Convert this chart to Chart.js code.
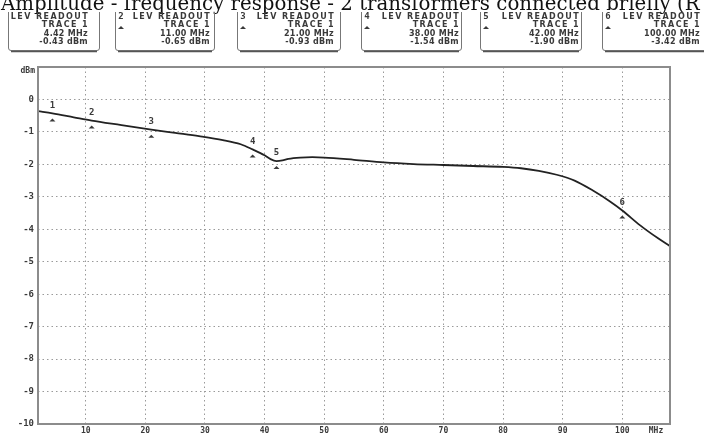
<!DOCTYPE html>
<html>
<head>
<meta charset="utf-8">
<script src="https://cdn.jsdelivr.net/npm/chart.js@4.4.1/dist/chart.umd.min.js"></script>
<style>
  html, body { margin: 0; padding: 0; background: #fff; }
  #wrap { width: 704px; height: 435px; }
</style>
</head>
<body>
<div id="wrap"><canvas id="chart" width="704" height="435"></canvas></div>
<script>
const titleText = 'Amplitude - frequency response - 2 transformers connected briefly (R';

// trace 1 (MHz / dBm)
const traceFreq  = [2, 4.42, 8, 11, 16, 21, 25, 29, 33, 36, 38, 40, 41, 42, 43, 44, 46, 48, 50, 55, 60, 65, 70, 75, 80, 83, 86, 89, 92, 95, 98, 100, 103, 106, 108];
const traceLevel = [-0.36, -0.43, -0.55, -0.65, -0.79, -0.93, -1.03, -1.13, -1.25, -1.38, -1.54, -1.72, -1.84, -1.90, -1.88, -1.83, -1.79, -1.78, -1.79, -1.86, -1.94, -1.99, -2.02, -2.05, -2.08, -2.12, -2.20, -2.32, -2.50, -2.80, -3.15, -3.42, -3.88, -4.28, -4.52];

// markers
const markerNo    = [1, 2, 3, 4, 5, 6];
const markerFreq  = [4.42, 11, 21, 38, 42, 100];
const markerLevel = [-0.43, -0.65, -0.93, -1.54, -1.90, -3.42];

// axes
const xTicks = [10, 20, 30, 40, 50, 60, 70, 80, 90, 100];
const yTicks = [0, -1, -2, -3, -4, -5, -6, -7, -8, -9, -10];
const xUnit = 'MHz';
const yUnit = 'dBm';

// readout box placement (left border, right border, text right edge)
const boxL = [8, 115, 237, 361, 480, 602];
const boxR = [100, 215, 341, 462, 582, 720];
const boxT = [88, 210, 334, 459, 579, 700];

const ink = '#3a3a3a';

function fmt(v) { return v.toFixed(2); }

const screenPlugin = {
  id: 'screen',
  beforeDraw(chart) {
    const c = chart.ctx;
    c.save();
    c.fillStyle = '#fff';
    c.fillRect(0, 0, chart.width, chart.height);
    c.restore();
  },
  afterDraw(chart) {
    const c = chart.ctx;
    const a = chart.chartArea;
    const xs = chart.scales.x, ys = chart.scales.y;
    c.save();

    // frame
    c.strokeStyle = '#8c8c8c';
    c.lineWidth = 2;
    c.strokeRect(a.left, a.top, a.right - a.left, a.bottom - a.top);

    // title (cut at the top of the scan)
    c.fillStyle = '#111';
    c.font = '19.8px "DejaVu Serif"';
    c.textAlign = 'left';
    c.textBaseline = 'alphabetic';
    c.fillText(titleText, 1, 10);

    // readout boxes
    for (let i = 0; i < markerNo.length; i++) {
      c.strokeStyle = '#777';
      c.lineWidth = 1;
      c.beginPath();
      c.moveTo(boxL[i] + 0.5, 12);
      c.lineTo(boxL[i] + 0.5, 48);
      c.quadraticCurveTo(boxL[i] + 0.5, 50.5, boxL[i] + 3, 50.5);
      c.lineTo(boxR[i] - 3, 50.5);
      c.quadraticCurveTo(boxR[i] - 0.5, 50.5, boxR[i] - 0.5, 48);
      c.lineTo(boxR[i] - 0.5, 12);
      c.stroke();
      c.strokeStyle = '#555';
      c.lineWidth = 1.5;
      c.beginPath();
      c.moveTo(boxL[i] + 3, 51.5);
      c.lineTo(boxR[i] - 3, 51.5);
      c.stroke();

      c.fillStyle = ink;
      c.textAlign = 'right';
      c.textBaseline = 'middle';
      c.font = 'bold 8px "DejaVu Sans"';
      c.letterSpacing = '1.4px';
      c.fillText('LEV READOUT', boxT[i] + 1, 17);
      c.fillText('TRACE 1', boxT[i] + 1, 25);
      c.letterSpacing = '0.3px';
      c.fillText(fmt(markerFreq[i]) + ' MHz', boxT[i], 33.5);
      c.fillText(fmt(markerLevel[i]) + ' dBm', boxT[i], 42);
      c.letterSpacing = '0px';

      if (i > 0) {
        const ix = boxL[i] + 6;
        c.textAlign = 'center';
        c.font = 'bold 9px "DejaVu Sans Mono"';
        c.fillText(String(markerNo[i]), ix, 17);
        c.beginPath();
        c.moveTo(ix - 3, 29);
        c.lineTo(ix + 3, 29);
        c.lineTo(ix, 26);
        c.closePath();
        c.fill();
      }
    }

    // markers on the trace
    c.fillStyle = ink;
    c.font = 'bold 9px "DejaVu Sans Mono"';
    c.textAlign = 'center';
    c.textBaseline = 'middle';
    for (let i = 0; i < markerNo.length; i++) {
      const px = xs.getPixelForValue(markerFreq[i]);
      const py = ys.getPixelForValue(markerLevel[i]);
      c.fillText(String(markerNo[i]), px, py - 8);
      c.beginPath();
      c.moveTo(px - 3, py + 8);
      c.lineTo(px + 3, py + 8);
      c.lineTo(px, py + 5);
      c.closePath();
      c.fill();
    }

    // unit labels
    c.font = 'bold 8px "DejaVu Sans Mono"';
    c.textAlign = 'right';
    c.fillText(yUnit, a.left - 3, a.top + 4);
    c.textAlign = 'center';
    c.fillText(xUnit, a.right - 14, a.bottom + 7);
    c.restore();
  }
};

new Chart(document.getElementById('chart'), {
  type: 'line',
  data: {
    datasets: [{
      data: traceFreq.map((f, i) => ({ x: f, y: traceLevel[i] })),
      borderColor: '#222',
      borderWidth: 1.8,
      pointRadius: 0,
      cubicInterpolationMode: 'monotone',
      fill: false
    }]
  },
  options: {
    responsive: false,
    animation: false,
    layout: { padding: { top: 67, right: 34, left: 0, bottom: 0 } },
    plugins: { legend: { display: false }, tooltip: { enabled: false } },
    scales: {
      x: {
        type: 'linear',
        min: 2,
        max: 108,
        afterBuildTicks: s => { s.ticks = xTicks.map(v => ({ value: v })); },
        afterFit: s => { s.height = 11; },
        grid: { color: '#9a9a9a', lineWidth: 1, drawTicks: false },
        border: { display: false, dash: [1.5, 3] },
        ticks: { padding: 2, color: ink, font: { family: 'DejaVu Sans Mono', size: 8, weight: 'bold' }, maxRotation: 0 }
      },
      y: {
        min: -10,
        max: 1,
        afterBuildTicks: s => { s.ticks = yTicks.map(v => ({ value: v })); },
        afterFit: s => { s.width = 38; },
        grid: { color: '#9a9a9a', lineWidth: 1, drawTicks: false },
        border: { display: false, dash: [1.5, 3] },
        ticks: { padding: 4, color: ink, font: { family: 'DejaVu Sans Mono', size: 9, weight: 'bold' } }
      }
    }
  },
  plugins: [screenPlugin]
});
</script>
</body>
</html>
